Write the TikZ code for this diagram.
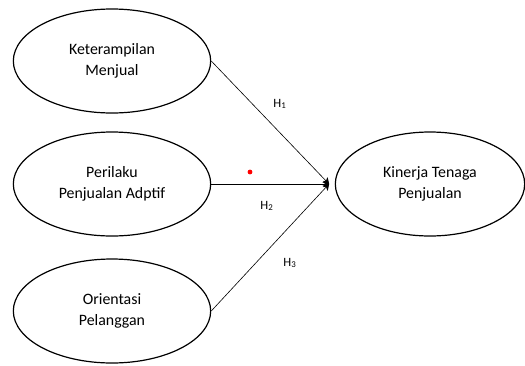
\documentclass[tikz,border=0pt]{standalone}
\usepackage{fontspec}
\setmainfont{Carlito}
\usetikzlibrary{positioning, arrows.meta, shapes.geometric}
\tikzstyle{latent} = [ellipse, draw=black, line width=0.9pt, minimum width=148pt, minimum height=78pt, text centered, align=center, font=\fontsize{11.9}{15.8}\selectfont]
\tikzstyle{arrow} = [black, -{Stealth[length=5pt,width=6pt,round]}]
\tikzstyle{hlabel} = [font=\fontsize{9.5}{11}\selectfont]

\begin{document}
\begin{tikzpicture}[x=0.75pt, y=-0.75pt]
    \useasboundingbox (0,0) rectangle (525,365);
    \node (1) [latent] at (112,61) {Keterampilan\\Menjual};
    \node (2) [latent] at (112,184) {Perilaku\\Penjualan Adptif};
    \node (3) [latent] at (112,311) {Orientasi\\Pelanggan};
    \node (4) [latent, minimum width=142pt] at (430,184) {Kinerja Tenaga\\Penjualan};
    \coordinate (tip) at (329,184);
    \draw [arrow, line width=0.45pt] (1.east) -- (tip);
    \draw [arrow, line width=0.65pt] (2.east) -- (tip);
    \draw [arrow, line width=0.45pt] (3.east) -- (tip);
    \node (h1) [hlabel] at (280,104) {H\textsubscript{1}};
    \node (h2) [hlabel] at (267,206) {H\textsubscript{2}};
    \node (h3) [hlabel] at (290,263) {H\textsubscript{3}};
    \fill [red] (250,172) circle (1.8pt);
  \end{tikzpicture}
\end{document}
